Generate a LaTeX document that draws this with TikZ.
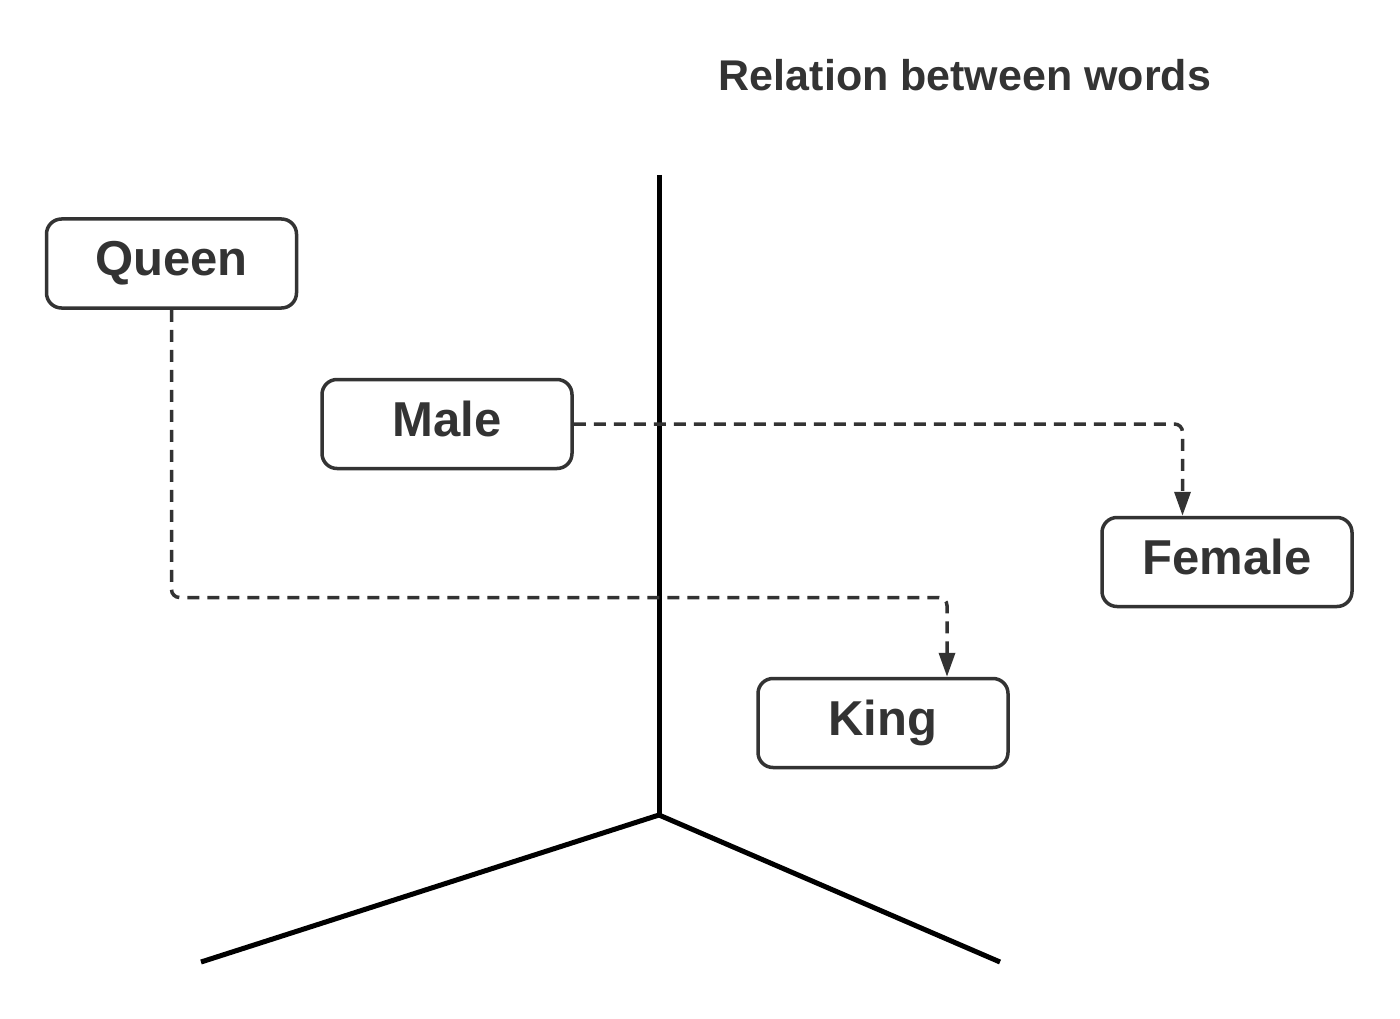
\documentclass[tikz,border=0pt]{standalone}
\usepackage{fontspec}
\setmainfont{Liberation Sans}
\usetikzlibrary{arrows.meta}
\definecolor{ink}{HTML}{333333}
\begin{document}
\begin{tikzpicture}[x=1pt,y=-1pt,
  box/.style={draw=ink, line width=3.5pt, rounded corners=15pt, minimum width=250pt, minimum height=89pt, inner sep=0pt, text height=36pt, text depth=12pt, text=ink, font=\bfseries\fontsize{49}{58}\selectfont},
  link/.style={draw=ink, line width=3.5pt, dash pattern=on 12pt off 8pt, rounded corners=8pt, -{Triangle[length=24pt,width=16pt]}},
  axisline/.style={line width=5pt, draw=black}]
\useasboundingbox (0,0) rectangle (1400,1019);
\node[text=ink, font=\bfseries\fontsize{43}{50}\selectfont] (title) at (965,75) {Relation between words};
% axes
\coordinate (top) at (659,175);
\coordinate (o) at (659,815);
\coordinate (l) at (201,962);
\coordinate (r) at (1000,962);
\draw[axisline] (top) -- (o);
\draw[axisline] (o) -- (l);
\draw[axisline] (o) -- (r);
% boxes
\node[box, fill=white] (queen) at (171.5,263.5) {Queen};
\node[box, fill=white] (male) at (447,424) {Male};
\node[box, fill=white] (female) at (1227,562) {Female};
\node[box, fill=white] (king) at (883,723) {King};
% connectors
\coordinate (kq) at (947,597.5);
\coordinate (mf) at (1182.5,424);
\draw[link] (queen.south) |- (kq) -- (kq |- king.north);
\draw[link] (male.east) -- (mf) -- (mf |- female.north);
\end{tikzpicture}
\end{document}
